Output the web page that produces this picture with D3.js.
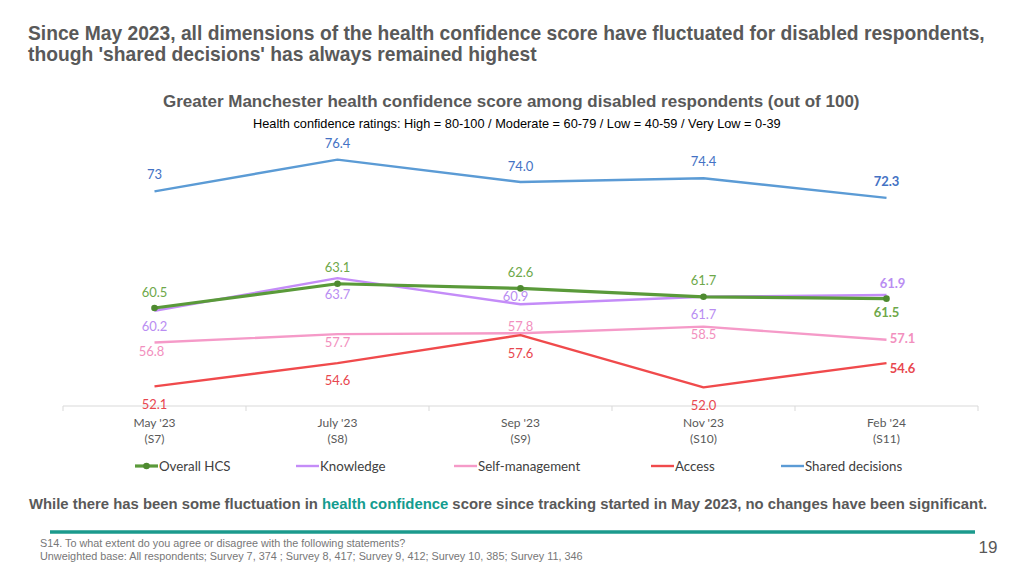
<!DOCTYPE html>
<html><head><meta charset="utf-8">
<script src="https://cdn.jsdelivr.net/npm/d3@7"></script>
<style>
html,body{margin:0;padding:0;background:#fff;}
svg{display:block;}
</style></head>
<body>
<svg id="c" width="1024" height="576"></svg>
<script>
// ---- data ----
const categories = ["May '23", "July '23", "Sep '23", "Nov '23", "Feb '24"];
const surveys = ["(S7)", "(S8)", "(S9)", "(S10)", "(S11)"];
const seriesNames = ["Overall HCS", "Knowledge", "Self-management", "Access", "Shared decisions"];
const overallHCS = [60.5, 63.1, 62.6, 61.7, 61.5];
const knowledge = [60.2, 63.7, 60.9, 61.7, 61.9];
const selfManagement = [56.8, 57.7, 57.8, 58.5, 57.1];
const access = [52.1, 54.6, 57.6, 52.0, 54.6];
const sharedDecisions = [73, 76.4, 74.0, 74.4, 72.3];
const valueLabels = {
  "Overall HCS": ["60.5", "63.1", "62.6", "61.7", "61.5"],
  "Knowledge": ["60.2", "63.7", "60.9", "61.7", "61.9"],
  "Self-management": ["56.8", "57.7", "57.8", "58.5", "57.1"],
  "Access": ["52.1", "54.6", "57.6", "52.0", "54.6"],
  "Shared decisions": ["73", "76.4", "74.0", "74.4", "72.3"]
};
const seriesValues = {
  "Overall HCS": overallHCS, "Knowledge": knowledge, "Self-management": selfManagement,
  "Access": access, "Shared decisions": sharedDecisions
};

// ---- styles / layout ----
const lineColors = {
  "Overall HCS": "#5A9A3A", "Knowledge": "#C48CF8", "Self-management": "#F59AC8",
  "Access": "#F04A4C", "Shared decisions": "#5B9BD5"
};
const labelColors = {
  "Overall HCS": "#6EA84A", "Knowledge": "#B98DF2", "Self-management": "#F290BE",
  "Access": "#E8474F", "Shared decisions": "#4472C4"
};
const labelOffsets = {
  "Overall HCS": [[0,-16],[0,-16],[0,-16],[0,-16],[0,14]],
  "Knowledge": [[0,16],[0,16],[-5,-8],[0,18],[6,-11]],
  "Self-management": [[-3,9],[0,8],[0,-7],[0,8],[16,-1]],
  "Access": [[0,18],[0,17],[0,18],[0,18],[16,5]],
  "Shared decisions": [[0,-17],[0,-16],[0,-16],[0,-17],[0,-16]]
};
const drawOrder = ["Shared decisions", "Self-management", "Access", "Knowledge", "Overall HCS"];
const labelFont = "Lato, 'Open Sans', sans-serif";
const titleFont = "'Liberation Sans', Arial, sans-serif";

const svg = d3.select("#c");

// fitted text: natural glyphs scaled horizontally to a target width
function fitText(x0, y0, width, size, bold, fill, build) {
  const g = svg.append("g");
  const t = g.append("text").attr("x", 0).attr("y", 0)
    .attr("font-family", titleFont).attr("font-size", size)
    .attr("font-weight", bold ? "bold" : "normal").attr("fill", fill);
  build(t);
  const w = t.node().getComputedTextLength();
  g.attr("transform", `translate(${x0},${y0}) scale(${width / w},1)`);
  return t;
}

// titles
fitText(28, 40, 957, 20.5, true, "#595959", t => t.text("Since May 2023, all dimensions of the health confidence score have fluctuated for disabled respondents,"));
fitText(28, 61, 509, 20.5, true, "#595959", t => t.text("though 'shared decisions' has always remained highest"));
fitText(163, 107, 697, 16.5, true, "#595959", t => t.text("Greater Manchester health confidence score among disabled respondents (out of 100)"));
fitText(253, 128, 528, 12.5, false, "#000", t => t.text("Health confidence ratings: High = 80-100 / Moderate = 60-79 / Low = 40-59 / Very Low = 0-39"));

// scales
const x = d3.scaleBand().domain(categories).range([63, 978]).padding(0);
const cx = c => x(c) + x.bandwidth() / 2;
const y = d3.scaleLinear().domain([50, 80]).range([406, 126]);

// axis
const axisG = svg.append("g").attr("transform", "translate(0,406)");
axisG.append("line").attr("x1", 63).attr("x2", 978).attr("stroke", "#D9D9D9").attr("stroke-width", 1);
const tickPos = categories.map(c => x(c)).concat([978]);
axisG.selectAll("line.tick").data(tickPos).join("line").attr("class", "tick")
  .attr("x1", d => d).attr("x2", d => d).attr("y1", 0).attr("y2", 5)
  .attr("stroke", "#D9D9D9");
const axLab = svg.append("g");
categories.forEach((c, i) => {
  axLab.append("text").attr("x", cx(c)).attr("y", 426.5).attr("text-anchor", "middle")
    .attr("font-family", labelFont).attr("font-size", 12).attr("fill", "#595959").text(c);
  axLab.append("text").attr("x", cx(c)).attr("y", 442.5).attr("text-anchor", "middle")
    .attr("font-family", labelFont).attr("font-size", 12).attr("fill", "#595959").text(surveys[i]);
});

// lines
const line = d3.line().x((d, i) => cx(categories[i])).y(d => y(d));
drawOrder.forEach(name => {
  svg.append("path").datum(seriesValues[name]).attr("d", line)
    .attr("fill", "none").attr("stroke", lineColors[name])
    .attr("stroke-width", name === "Overall HCS" ? 3.2 : 2.4)
    .attr("stroke-linejoin", "round");
  if (name === "Overall HCS") {
    svg.selectAll("circle.m").data(seriesValues[name]).join("circle").attr("class", "m")
      .attr("cx", (d, i) => cx(categories[i])).attr("cy", d => y(d)).attr("r", 3.3)
      .attr("fill", "#4E8A30");
  }
});

// labels
seriesNames.forEach(name => {
  seriesValues[name].forEach((v, i) => {
    const off = labelOffsets[name][i];
    svg.append("text").attr("x", cx(categories[i]) + off[0]).attr("y", y(v) + off[1])
      .attr("dy", "0.35em").attr("text-anchor", "middle")
      .attr("font-family", labelFont).attr("font-size", 13)
      .attr("font-weight", i === 4 ? "bold" : "normal")
      .attr("fill", labelColors[name]).text(valueLabels[name][i]);
  });
});

// legend
const legendX = [135, 296, 454, 651, 781];
const lg = svg.append("g");
seriesNames.forEach((name, i) => {
  const g = lg.append("g").attr("transform", `translate(${legendX[i]},466)`);
  g.append("line").attr("x1", 0).attr("x2", 23).attr("stroke", lineColors[name])
    .attr("stroke-width", name === "Overall HCS" ? 3.2 : 2.4);
  if (name === "Overall HCS") g.append("circle").attr("cx", 11.5).attr("r", 3.3).attr("fill", "#4E8A30");
  g.append("text").attr("x", 24).attr("dy", "0.35em").attr("font-family", labelFont)
    .attr("font-size", 13.3).attr("fill", "#404040").text(name);
});

// bottom note
fitText(29, 509, 959, 14.5, true, "#595959", t => {
  t.append("tspan").text("While there has been some fluctuation in ");
  t.append("tspan").attr("fill", "#139C8F").text("health confidence");
  t.append("tspan").text(" score since tracking started in May 2023, no changes have been significant.");
});

// teal rule
svg.append("line").attr("x1", 50).attr("x2", 975).attr("y1", 532).attr("y2", 532)
  .attr("stroke", "#1B9A8D").attr("stroke-width", 3.5);

// footer
fitText(40, 547, 366, 10, false, "#777", t => t.text("S14. To what extent do you agree or disagree with the following statements?"));
fitText(40, 560, 543, 10, false, "#777", t => t.text("Unweighted base: All respondents; Survey 7, 374 ; Survey 8, 417; Survey 9, 412; Survey 10, 385; Survey 11, 346"));
svg.append("text").attr("x", 988).attr("y", 553).attr("text-anchor", "middle")
  .attr("font-family", titleFont).attr("font-size", 17).attr("fill", "#595959").text("19");
</script>
</body></html>
